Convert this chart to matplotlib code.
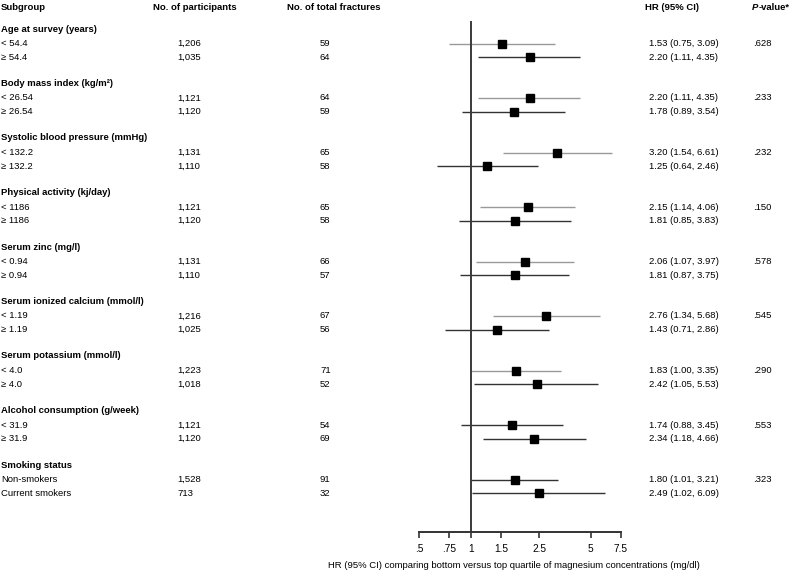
import numpy as np
import matplotlib
matplotlib.use("Agg")
import matplotlib.pyplot as plt

plt.rcParams['font.family'] = ['Liberation Sans', 'DejaVu Sans']

# data
groups = ['Age at survey (years)', 'Body mass index (kg/m\u00b2)', 'Systolic blood pressure (mmHg)',
          'Physical activity (kj/day)', 'Serum zinc (mg/l)', 'Serum ionized calcium (mmol/l)',
          'Serum potassium (mmol/l)', 'Alcohol consumption (g/week)', 'Smoking status']
sub_labels = [['< 54.4', '\u2265 54.4'], ['< 26.54', '\u2265 26.54'], ['< 132.2', '\u2265 132.2'],
              ['< 1186', '\u2265 1186'], ['< 0.94', '\u2265 0.94'], ['< 1.19', '\u2265 1.19'],
              ['< 4.0', '\u2265 4.0'], ['< 31.9', '\u2265 31.9'], ['Non-smokers', 'Current smokers']]
participants = [['1,206', '1,035'], ['1,121', '1,120'], ['1,131', '1,110'], ['1,121', '1,120'],
                ['1,131', '1,110'], ['1,216', '1,025'], ['1,223', '1,018'], ['1,121', '1,120'],
                ['1,528', '713']]
fractures = [[59, 64], [64, 59], [65, 58], [65, 58], [66, 57], [67, 56], [71, 52], [54, 69], [91, 32]]
hr = [[1.53, 2.20], [2.20, 1.78], [3.20, 1.25], [2.15, 1.81], [2.06, 1.81], [2.76, 1.43],
      [1.83, 2.42], [1.74, 2.34], [1.80, 2.49]]
lo = [[0.75, 1.11], [1.11, 0.89], [1.54, 0.64], [1.14, 0.85], [1.07, 0.87], [1.34, 0.71],
      [1.00, 1.05], [0.88, 1.18], [1.01, 1.02]]
hi = [[3.09, 4.35], [4.35, 3.54], [6.61, 2.46], [4.06, 3.83], [3.97, 3.75], [5.68, 2.86],
      [3.35, 5.53], [3.45, 4.66], [3.21, 6.09]]
pvals = ['.628', '.233', '.232', '.150', '.578', '.545', '.290', '.553', '.323']
ticks = [0.5, 0.75, 1, 1.5, 2.5, 5, 7.5]
tick_labels = ['.5', '.75', '1', '1.5', '2.5', '5', '7.5']

W, H = 793, 572
fig = plt.figure(figsize=(W / 100, H / 100), dpi=100)

# text axes in pixel units
tax = fig.add_axes([0, 0, 1, 1])
tax.set_xlim(0, W)
tax.set_ylim(H, 0)
tax.axis('off')

# forest axes, log x
px_per = 74.7
left_px, right_px = 410, 640
xmin = np.exp(np.log(0.5) - (419 - left_px) / px_per)
xmax = np.exp(np.log(7.5) + (right_px - 621) / px_per)
fax = fig.add_axes([left_px / W, 0, (right_px - left_px) / W, 1])
fax.patch.set_visible(False)
fax.set_xscale('log')
fax.set_xlim(xmin, xmax)
fax.set_ylim(H, 0)

fs = 6.8
col_sub, col_part, col_frac, col_hr, col_p = 1, 177, 320, 649, 753

tax.text(col_sub, 8, 'Subgroup', fontsize=fs, fontweight='bold', va='center')
tax.text(153, 8, 'No. of participants', fontsize=fs, fontweight='bold', va='center')
tax.text(287, 8, 'No. of total fractures', fontsize=fs, fontweight='bold', va='center')
tax.text(645, 8, 'HR (95% CI)', fontsize=fs, fontweight='bold', va='center')
pt = tax.text(col_p - 1, 8, 'P', fontsize=fs, fontweight='bold', style='italic', va='center')
tax.annotate('-value*', xy=(1, 0.5), xycoords=pt, fontsize=fs, fontweight='bold', va='center')

for k, g in enumerate(groups):
    y0 = 29 + 54.5 * k
    tax.text(col_sub, y0, g, fontsize=fs, fontweight='bold', va='center')
    for j in range(2):
        y = y0 + 14.5 + 13.8 * j
        tax.text(col_sub, y, sub_labels[k][j], fontsize=fs, va='center')
        tax.text(col_part, y, participants[k][j], fontsize=fs, va='center')
        tax.text(col_frac, y, str(fractures[k][j]), fontsize=fs, va='center')
        tax.text(col_hr, y, '%.2f (%.2f, %.2f)' % (hr[k][j], lo[k][j], hi[k][j]),
                 fontsize=fs, va='center')
        c = '#999999' if (j == 0 and k < 7) else '#333333'
        fax.plot([lo[k][j], hi[k][j]], [y, y], color=c, lw=1.0, solid_capstyle='butt')
        fax.plot(hr[k][j], y, marker='s', ms=6, color='black', mec='black')
    tax.text(col_p, y0 + 14.5, pvals[k], fontsize=fs, va='center')

fax.plot([1, 1], [22, 532], color='#3a3a3a', lw=1.4)

for s in ['top', 'right', 'left']:
    fax.spines[s].set_visible(False)
fax.spines['bottom'].set_position(('data', 532))
fax.spines['bottom'].set_bounds(0.5, 7.5)
fax.spines['bottom'].set_linewidth(1.4)
fax.spines['bottom'].set_color('#333333')
fax.set_yticks([])
fax.minorticks_off()
fax.set_xticks(ticks)
fax.set_xticklabels(tick_labels)
fax.tick_params(axis='x', which='major', direction='out', length=4, width=1.2,
                color='#333333', labelsize=7.3, pad=4.5)
fax.tick_params(axis='x', which='minor', length=0)

tax.text(514, 566, 'HR (95% CI) comparing bottom versus top quartile of magnesium concentrations (mg/dl)',
         fontsize=fs, ha='center', va='center')

fig.savefig('out.png', dpi=100)
